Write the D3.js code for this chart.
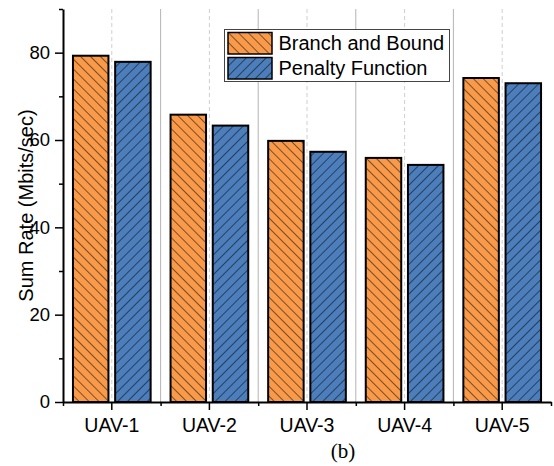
<!DOCTYPE html>
<html>
<head>
<meta charset="utf-8">
<script src="https://cdn.jsdelivr.net/npm/d3@7"></script>
<style>
  body { margin: 0; background: #fff; }
  svg { display: block; }
  .axis text { font-family: "Liberation Sans", Arial, sans-serif; fill: #000; }
</style>
</head>
<body>
<div id="chart"></div>
<script>
const categories = ["UAV-1", "UAV-2", "UAV-3", "UAV-4", "UAV-5"];
const seriesNames = ["Branch and Bound", "Penalty Function"];
const branchBound = [79.3, 65.8, 59.8, 55.9, 74.2];
const penaltyFn = [77.9, 63.3, 57.3, 54.3, 73.0];
const yMajorTicks = [0, 20, 40, 60, 80];
const yMinorTicks = [10, 30, 50, 70, 90];

const width = 554;
const height = 466;
const plotLeft = 63, plotRight = 551, plotTop = 9, plotBottom = 402;

const fills = ["#F99A4A", "#4D7EBC"];
const hatchAngle = [-45, 45];

const svg = d3.select("#chart")
    .append("svg")
    .attr("width", width)
    .attr("height", height);

// hatch patterns
const defs = svg.append("defs");
hatchAngle.forEach(function (a, i) {
    let p = defs.append("pattern")
        .attr("id", "hatch" + i)
        .attr("patternUnits", "userSpaceOnUse")
        .attr("width", 7)
        .attr("height", 7)
        .attr("patternTransform", "rotate(" + a + ")");
    p.append("rect").attr("width", 7).attr("height", 7).attr("fill", fills[i]);
    p.append("line")
        .attr("x1", 0).attr("y1", 0)
        .attr("x2", 0).attr("y2", 7)
        .attr("stroke", "#000")
        .attr("stroke-width", 1);
});

//scales
let xScale = d3.scaleBand()
    .domain(categories)
    .range([plotLeft, plotRight]);

let xInner = d3.scaleBand()
    .domain(seriesNames)
    .range([0, xScale.bandwidth()])
    .paddingInner(0.159)
    .paddingOuter(0.236);

let yScale = d3.scaleLinear()
    .domain([0, 90])
    .range([plotBottom, plotTop]);

// grid lines
let boundaries = categories.slice(1).map(c => xScale(c));
svg.append("g").selectAll("line")
    .data(boundaries)
    .join("line")
    .attr("x1", d => d).attr("x2", d => d)
    .attr("y1", plotTop).attr("y2", plotBottom)
    .attr("stroke", "#b4b4b4")
    .attr("stroke-width", 1);

svg.append("g").selectAll("line")
    .data(categories)
    .join("line")
    .attr("x1", d => xScale(d) + xScale.bandwidth() / 2)
    .attr("x2", d => xScale(d) + xScale.bandwidth() / 2)
    .attr("y1", plotTop).attr("y2", plotBottom)
    .attr("stroke", "#cfcfcf")
    .attr("stroke-width", 1)
    .attr("stroke-dasharray", "4,3");

// bars
let rows = categories.map((c, i) => ({ cat: c, vals: [branchBound[i], penaltyFn[i]] }));
let groups = svg.append("g").selectAll("g")
    .data(rows)
    .join("g")
    .attr("transform", d => "translate(" + xScale(d.cat) + ",0)");

groups.selectAll("rect")
    .data(d => d.vals.map((v, j) => ({ name: seriesNames[j], v: v, j: j })))
    .join("rect")
    .attr("x", d => xInner(d.name))
    .attr("y", d => yScale(d.v))
    .attr("width", xInner.bandwidth())
    .attr("height", d => yScale(0) - yScale(d.v))
    .attr("fill", d => "url(#hatch" + d.j + ")")
    .attr("stroke", "#000")
    .attr("stroke-width", 2);

// y axis
let yAxis = d3.axisLeft(yScale)
    .tickValues(yMajorTicks)
    .tickSize(8)
    .tickSizeOuter(0)
    .tickPadding(5);
let yg = svg.append("g")
    .attr("class", "axis")
    .attr("transform", "translate(" + plotLeft + ",0)")
    .call(yAxis);
yg.selectAll("text").attr("font-size", "18.5px");

svg.append("g")
    .attr("class", "axis")
    .attr("transform", "translate(" + plotLeft + ",0)")
    .call(d3.axisLeft(yScale).tickValues(yMinorTicks).tickSize(4).tickSizeOuter(0).tickFormat(""))
    .select(".domain").remove();

// x axis
let xAxis = d3.axisBottom(xScale)
    .tickSize(8)
    .tickSizeOuter(0)
    .tickPadding(8);
let xg = svg.append("g")
    .attr("class", "axis")
    .attr("transform", "translate(0," + plotBottom + ")")
    .call(xAxis);
xg.selectAll("text").attr("font-size", "19.5px");

let xMinor = d3.scalePoint().domain(d3.range(categories.length + 1)).range([plotLeft, plotRight]);
svg.append("g")
    .attr("class", "axis")
    .attr("transform", "translate(0," + plotBottom + ")")
    .call(d3.axisBottom(xMinor).tickSize(4).tickSizeOuter(0).tickFormat(""))
    .select(".domain").remove();

svg.selectAll(".axis .domain").attr("stroke-width", 2).attr("stroke", "#000");
svg.selectAll(".axis .tick line").attr("stroke-width", 1.5).attr("stroke", "#000");

// Y label
svg.append("text")
    .attr("transform", "rotate(-90)")
    .attr("x", -(plotTop + plotBottom) / 2)
    .attr("y", 33)
    .attr("font-family", "Liberation Sans, Arial, sans-serif")
    .attr("font-size", "20px")
    .style("text-anchor", "middle")
    .text("Sum Rate (Mbits/sec)");

// legend
let legend = svg.append("g").attr("transform", "translate(224.5,29.5)");
legend.append("rect")
    .attr("width", 225)
    .attr("height", 52)
    .attr("fill", "#fff")
    .attr("stroke", "#444")
    .attr("stroke-width", 1);
seriesNames.forEach(function (name, i) {
    legend.append("rect")
        .attr("x", 3.5)
        .attr("y", 3 + i * 25)
        .attr("width", 44)
        .attr("height", 21.5)
        .attr("fill", "url(#hatch" + i + ")")
        .attr("stroke", "#000")
        .attr("stroke-width", 1.5);
    legend.append("text")
        .attr("x", 54)
        .attr("y", 20.5 + i * 25)
        .attr("font-family", "Liberation Sans, Arial, sans-serif")
        .attr("font-size", "20px")
        .text(name);
});

// caption
svg.append("text")
    .attr("x", 343)
    .attr("y", 458)
    .attr("font-family", "Liberation Serif, Times New Roman, serif")
    .attr("font-size", "21px")
    .style("text-anchor", "middle")
    .text("(b)");
</script>
</body>
</html>
